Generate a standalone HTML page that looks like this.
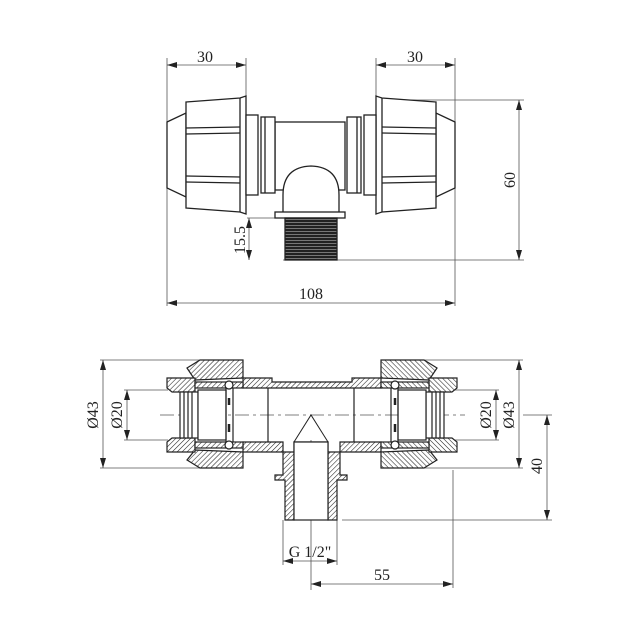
<!DOCTYPE html>
<html><head><meta charset="utf-8"><style>
html,body{margin:0;padding:0;background:#fff}
svg{display:block}
text{font-family:"Liberation Serif",serif;font-size:16px;fill:#222}
</style></head><body>
<svg width="630" height="630" viewBox="0 0 630 630" xmlns="http://www.w3.org/2000/svg">
<defs>
<pattern id="h" width="3.5" height="3.5" patternUnits="userSpaceOnUse" patternTransform="rotate(45)">
<rect width="3.5" height="3.5" fill="#fff"/><line x1="0" y1="0" x2="0" y2="3.5" stroke="#222" stroke-width="1.1"/>
</pattern>
<pattern id="th" width="4" height="3" patternUnits="userSpaceOnUse">
<rect width="4" height="3" fill="#222"/><rect width="4" height="1" fill="#777"/>
</pattern>
<marker id="a" viewBox="0 0 10 6" refX="10" refY="3" markerWidth="10" markerHeight="6" orient="auto-start-reverse" markerUnits="userSpaceOnUse">
<path d="M0,0 L10,3 L0,6 z" fill="#222"/></marker>
</defs>
<g stroke="#555" stroke-width="0.8" fill="none">
<line x1="167" y1="58" x2="167" y2="306"/><line x1="246" y1="58" x2="246" y2="100"/>
<line x1="376" y1="58" x2="376" y2="100"/><line x1="455" y1="58" x2="455" y2="306"/>
<line x1="167" y1="65" x2="246" y2="65" marker-start="url(#a)" marker-end="url(#a)"/>
<line x1="376" y1="65" x2="455" y2="65" marker-start="url(#a)" marker-end="url(#a)"/>
<line x1="376" y1="100" x2="524" y2="100"/><line x1="283" y1="260" x2="524" y2="260"/>
<line x1="519" y1="100" x2="519" y2="260" marker-start="url(#a)" marker-end="url(#a)"/>
<line x1="247" y1="218" x2="283" y2="218"/>
<line x1="249" y1="218" x2="249" y2="260" marker-start="url(#a)" marker-end="url(#a)"/>
<line x1="167" y1="303" x2="455" y2="303" marker-start="url(#a)" marker-end="url(#a)"/>
<line x1="100" y1="360" x2="240" y2="360"/><line x1="100" y1="468" x2="240" y2="468"/>
<line x1="103" y1="360" x2="103" y2="468" marker-start="url(#a)" marker-end="url(#a)"/>
<line x1="124" y1="390" x2="168" y2="390"/><line x1="124" y1="440" x2="168" y2="440"/>
<line x1="127" y1="390" x2="127" y2="440" marker-start="url(#a)" marker-end="url(#a)"/>
<line x1="382" y1="360" x2="523" y2="360"/><line x1="382" y1="468" x2="523" y2="468"/>
<line x1="455" y1="390" x2="499" y2="390"/><line x1="455" y1="440" x2="499" y2="440"/>
<line x1="496" y1="390" x2="496" y2="440" marker-start="url(#a)" marker-end="url(#a)"/>
<line x1="519" y1="360" x2="519" y2="468" marker-start="url(#a)" marker-end="url(#a)"/>
<line x1="523" y1="415" x2="552" y2="415"/><line x1="342" y1="520" x2="552" y2="520"/>
<line x1="547" y1="415" x2="547" y2="520" marker-start="url(#a)" marker-end="url(#a)"/>
<line x1="453" y1="470" x2="453" y2="588"/>
<line x1="311" y1="440" x2="311" y2="590"/>
<line x1="311" y1="584" x2="453" y2="584" marker-start="url(#a)" marker-end="url(#a)"/>
<line x1="283" y1="520" x2="283" y2="565"/><line x1="337" y1="520" x2="337" y2="565"/>
<line x1="283" y1="561" x2="337" y2="561" marker-start="url(#a)" marker-end="url(#a)"/>
<line x1="160" y1="415" x2="465" y2="415" stroke-dasharray="14,4,3,4"/>
</g>
<g fill="#222">
<text x="205" y="62" text-anchor="middle">30</text>
<text x="415" y="62" text-anchor="middle">30</text>
<text x="311" y="299" text-anchor="middle">108</text>
<text transform="translate(515,180) rotate(-90)" text-anchor="middle">60</text>
<text transform="translate(245,240) rotate(-90)" text-anchor="middle">15.5</text>
<text transform="translate(98,415) rotate(-90)" text-anchor="middle">Ø43</text>
<text transform="translate(122,415) rotate(-90)" text-anchor="middle">Ø20</text>
<text transform="translate(491,415) rotate(-90)" text-anchor="middle">Ø20</text>
<text transform="translate(514,415) rotate(-90)" text-anchor="middle">Ø43</text>
<text transform="translate(542,466) rotate(-90)" text-anchor="middle">40</text>
<text x="310" y="557" text-anchor="middle">G 1/2"</text>
<text x="382" y="580" text-anchor="middle">55</text>
</g>
<g stroke="#222" stroke-width="1.3" fill="#fff">
<rect x="275" y="122" width="70" height="68"/>
<path d="M283,213 L283,195 Q283,167 311,166 Q339,167 339,195 L339,213"/>
<rect x="275" y="212" width="70" height="6"/>
<rect x="285" y="218" width="52" height="42" fill="url(#th)"/>
<g id="L">
<path d="M167,122 L186,113 L186,197 L167,188 z"/>
<path d="M186,102 L240,98 L246,96 L246,214 L240,212 L186,208 z"/>
<line x1="186" y1="128" x2="240" y2="127"/><line x1="186" y1="134" x2="240" y2="133"/>
<line x1="186" y1="176" x2="240" y2="177"/><line x1="186" y1="182" x2="240" y2="183"/>
<line x1="240" y1="98" x2="240" y2="212"/>
<rect x="246" y="115" width="12" height="80"/>
<rect x="261" y="117" width="14" height="76"/>
<line x1="265" y1="117" x2="265" y2="193"/>
</g>
<use href="#L" transform="translate(622,0) scale(-1,1)"/>
</g>
<g stroke="#222" stroke-width="1.2">
<path d="M243,378 L272,378 L272,382 L352,382 L352,378 L381,378 L381,388 L268,388 L243,388 z" fill="url(#h)"/>
<path d="M243,442 L283,442 L283,475 L275,475 L275,480 L285,480 L285,520 L294,520 L294,442 L328,442 L328,520 L337,520 L337,480 L347,480 L347,475 L340,475 L340,442 L381,442 L381,452 L243,452 z" fill="url(#h)"/>
<rect x="294" y="442" width="34" height="78" fill="#fff"/>
<path d="M294,442 L311,415 L328,442" fill="none" stroke-width="1"/>
<line x1="268" y1="388" x2="268" y2="442"/><line x1="354" y1="388" x2="354" y2="442"/>
<g id="N">
<path d="M187,368 L200,360 L243,360 L243,378 L195,380 z" fill="url(#h)"/>
<path d="M187,460 L200,468 L243,468 L243,452 L195,450 z" fill="url(#h)"/>
<path d="M167,378 L195,378 L195,392 L172,392 L167,388 z" fill="url(#h)"/>
<path d="M167,452 L195,452 L195,438 L172,438 L167,442 z" fill="url(#h)"/>
<rect x="195" y="382" width="48" height="6" fill="url(#h)"/>
<rect x="195" y="442" width="48" height="6" fill="url(#h)"/>
<rect x="180" y="392" width="18" height="46" fill="#fff"/>
<line x1="184" y1="392" x2="184" y2="438"/><line x1="188" y1="392" x2="188" y2="438"/><line x1="192" y1="392" x2="192" y2="438"/>
<rect x="198" y="390" width="28" height="50" fill="#fff"/>
<circle cx="229" cy="385" r="4" fill="#fff"/><circle cx="229" cy="445" r="4" fill="#fff"/>
<line x1="226" y1="388" x2="226" y2="442"/><line x1="233" y1="388" x2="233" y2="442"/>
<line x1="229" y1="398" x2="229" y2="405" stroke-width="2.5"/><line x1="229" y1="424" x2="229" y2="432" stroke-width="2.5"/>
</g>
<use href="#N" transform="translate(624,0) scale(-1,1)"/>
</g>
</svg>
</body></html>
